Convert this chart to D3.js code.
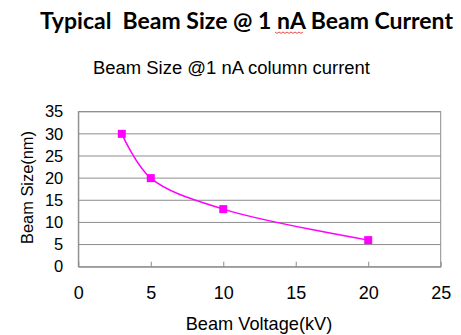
<!DOCTYPE html>
<html><head><meta charset="utf-8">
<script src="https://cdn.jsdelivr.net/npm/d3@7"></script>
<style>body{margin:0;background:#fff}svg{display:block}</style>
</head><body>
<script>
const title = "Typical  Beam Size @ 1 nA Beam Current";
const subtitle = "Beam Size @1 nA column current";
const xLabel = "Beam Voltage(kV)";
const yLabel = "Beam Size(nm)";
const voltages = [3, 5, 10, 20];
const beamSizes = [30, 20, 13, 6];
const xTicks = [0, 5, 10, 15, 20, 25];
const yTicks = [0, 5, 10, 15, 20, 25, 30, 35];

const W = 461, H = 335;
const svg = d3.select("body").append("svg").attr("width", W).attr("height", H);
const m = {l: 78.3, r: 440.7, t: 111.7, b: 266.7};
const x = d3.scaleLinear().domain([0, 25]).range([m.l, m.r]);
const y = d3.scaleLinear().domain([0, 35]).range([m.b, m.t]);
const grey = "#8c8c8c";
const sans = "Liberation Sans, Arial, sans-serif";

svg.append("text").attr("x", 40).attr("y", 28.5).style("white-space", "pre")
  .attr("font-family", "Lato, Open Sans, sans-serif").attr("font-weight", "bold")
  .attr("font-size", 23.5).attr("fill", "#000")
  .attr("textLength", 413).attr("lengthAdjust", "spacingAndGlyphs").text(title);
// spell-check squiggle under "nA"
const sq = d3.path();
const sx = 275, sy = 32;
sq.moveTo(sx, sy);
for (let i = 1; i <= 14; i++) { sq.lineTo(sx + i * 2, sy + (i % 2 ? 1.4 : 0)); }
svg.append("path").attr("d", sq.toString()).attr("fill", "none").attr("stroke", "#e02020").attr("stroke-width", 0.8);

svg.append("text").attr("x", 93).attr("y", 74)
  .attr("font-family", sans).attr("font-size", 17.5).attr("fill", "#000")
  .attr("textLength", 277).attr("lengthAdjust", "spacingAndGlyphs").text(subtitle);

// gridlines
svg.append("g").selectAll("line").data(yTicks.filter(d => d > 0)).join("line")
  .attr("x1", m.l).attr("x2", m.r).attr("y1", d => y(d)).attr("y2", d => y(d))
  .attr("stroke", grey).attr("stroke-width", 1);
// plot border
svg.append("rect").attr("x", m.l).attr("y", m.t).attr("width", m.r - m.l).attr("height", m.b - m.t)
  .attr("fill", "none").attr("stroke", grey).attr("stroke-width", 1);

// axes
const xAxis = d3.axisBottom(x).tickValues(xTicks).tickSizeInner(-5).tickSizeOuter(0).tickPadding(20);
const gx = svg.append("g").attr("transform", `translate(0,${m.b})`).call(xAxis);
gx.select(".domain").attr("stroke", grey);
gx.selectAll(".tick line").attr("stroke", grey);
gx.selectAll("text").attr("font-family", sans).attr("font-size", 18).attr("fill", "#000");

const yAxis = d3.axisLeft(y).tickValues(yTicks).tickSize(0).tickPadding(15);
const gy = svg.append("g").attr("transform", `translate(${m.l},0)`).call(yAxis);
gy.select(".domain").attr("stroke", grey);
gy.selectAll("text").attr("font-family", sans).attr("font-size", 16.5).attr("fill", "#000");

svg.append("text").attr("x", 259).attr("y", 329.5).attr("text-anchor", "middle")
  .attr("font-family", sans).attr("font-size", 18.2).attr("fill", "#000").text(xLabel);
svg.append("text").attr("transform", `translate(32.7,187.5) rotate(-90)`).attr("text-anchor", "middle")
  .attr("font-family", sans).attr("font-size", 16.4).attr("fill", "#000").text(yLabel);

const data = voltages.map((v, i) => ({v, s: beamSizes[i]}));
const line = d3.line().x(d => x(d.v)).y(d => y(d.s)).curve(d3.curveCatmullRom.alpha(0.5));
svg.append("path").datum(data).attr("d", line).attr("fill", "none").attr("stroke", "#ff00ff").attr("stroke-width", 1.5);
svg.append("g").selectAll("rect").data(data).join("rect")
  .attr("x", d => x(d.v) - 4).attr("y", d => y(d.s) - 4).attr("width", 8).attr("height", 8).attr("fill", "#ff00ff");
</script>
</body></html>
